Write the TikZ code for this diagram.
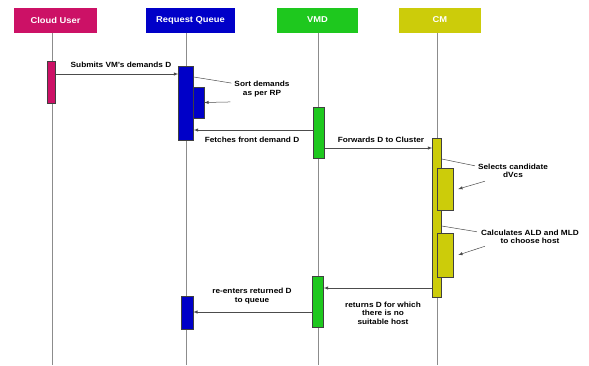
\documentclass[tikz,border=0pt]{standalone}
\usepackage{fontspec}
\setmainfont[FakeStretch=1.1]{Liberation Sans}
\usepackage{tikz}
\usetikzlibrary{positioning, arrows, calc}

\definecolor{userc}{RGB}{204,17,102}
\definecolor{queuec}{RGB}{0,0,200}
\definecolor{vmdc}{RGB}{30,200,30}
\definecolor{cmc}{RGB}{204,204,10}

\begin{document}
\begin{tikzpicture}[x=1pt, y=-1pt,
	head/.style={minimum height=25pt, inner sep=0pt, text=white, font=\fontsize{8.5}{9}\selectfont\bfseries},
	act/.style={draw=black!75, line width=0.5pt, inner sep=0pt},
	life/.style={draw=black!45, line width=0.8pt},
	msg/.style={draw=black!70, line width=0.5pt, -latex},
	lbl/.style={font=\fontsize{7.5}{8.5}\selectfont\bfseries, align=center, inner sep=1pt}]
	\useasboundingbox (0,0) rectangle (589,365);
	
	% heads
	\node[head, fill=userc, minimum width=83pt] (user) at (55.5,20) {Cloud User};
	\node[head, fill=queuec, minimum width=89pt] (queue) at (190.5,20) {Request Queue};
	\node[head, fill=vmdc, minimum width=81pt] (vmd) at (317.5,20) {VMD};
	\node[head, fill=cmc, minimum width=82pt] (cm) at (440,20) {CM};
	
	% lifelines
	\draw[life] (user.south -| 52,0) -- (52,365);
	\draw[life] (queue.south -| 186,0) -- (186,365);
	\draw[life] (vmd.south -| 318,0) -- (318,365);
	\draw[life] (cm.south -| 437,0) -- (437,365);
	
	% activations
	\node[act, fill=userc, minimum width=8pt, minimum height=42pt] (u1) at (51.5,82) {};
	\node[act, fill=queuec, minimum width=15pt, minimum height=74pt] (q1) at (186,103) {};
	\node[act, fill=queuec, minimum width=11pt, minimum height=31pt] (q2) at (198.5,102.5) {};
	\node[act, fill=vmdc, minimum width=11pt, minimum height=51pt] (v1) at (319,132.5) {};
	\node[act, fill=cmc, minimum width=9pt, minimum height=159pt] (c1) at (437,217.5) {};
	\node[act, fill=cmc, minimum width=16pt, minimum height=42pt] (c2) at (445,189) {};
	\node[act, fill=cmc, minimum width=16pt, minimum height=44pt] (c3) at (445,255) {};
	\node[act, fill=vmdc, minimum width=11pt, minimum height=51pt] (v2) at (318,301.5) {};
	\node[act, fill=queuec, minimum width=12pt, minimum height=33pt] (q3) at (187,312.5) {};
	
	% labels
	\node[lbl] (submit) at (121,65) {Submits VM's demands D};
	\node[lbl] (sort) at (262,89) {Sort demands\\as per RP};
	\node[lbl] (fetch) at (252,140) {Fetches front demand D};
	\node[lbl] (fwd) at (381,140) {Forwards D to Cluster};
	\node[lbl] (select) at (513,171) {Selects candidate\\dVcs};
	\node[lbl] (calc) at (530,237) {Calculates ALD and MLD\\to choose host};
	\node[lbl] (ret) at (383,313) {returns D for which\\there is no\\suitable host};
	\node[lbl] (reent) at (252,296) {re-enters returned D\\to queue};
	
	% messages
	\draw[msg] (u1.east |- 0,74) -- (q1.west |- 0,74);
	\draw[msg, -] (q1.east |- 0,77) -- ([xshift=-2pt, yshift=-3pt]sort.north west);
	\draw[msg] ([xshift=-3pt, yshift=-4pt]sort.south west) -- (q2.east);
	\draw[msg] (v1.west |- 0,130) -- (q1.east |- 0,130);
	\draw[msg] (v1.east |- 0,148) -- (c1.west |- 0,148);
	\draw[msg, -] (c1.east |- 0,159) -- ([xshift=-2pt, yshift=-3pt]select.north west);
	\draw[msg] ([xshift=8pt, yshift=-2pt]select.south west) -- ([xshift=5pt]c2.east);
	\draw[msg, -] (c1.east |- 0,226) -- ([xshift=-3pt, yshift=-3pt]calc.north west);
	\draw[msg] ([xshift=5pt, yshift=-1pt]calc.south west) -- ([xshift=5pt]c3.east);
	\draw[msg] (c1.west |- 0,288) -- (v2.east |- 0,288);
	\draw[msg] (v2.west |- 0,312) -- (q3.east |- 0,312);
\end{tikzpicture}
\end{document}
